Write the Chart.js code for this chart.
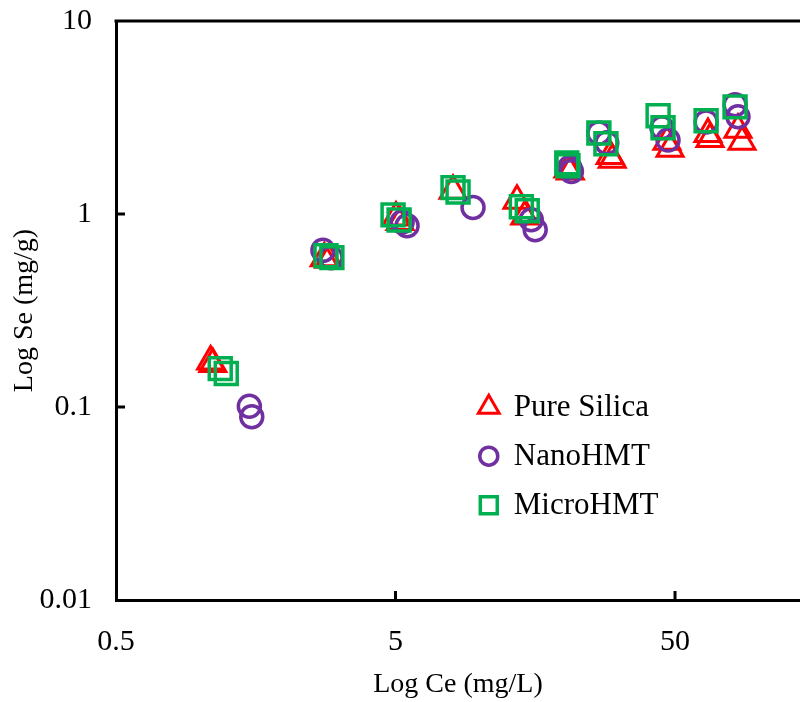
<!DOCTYPE html>
<html>
<head>
<meta charset="utf-8">
<script src="https://cdn.jsdelivr.net/npm/chart.js@4.4.0/dist/chart.umd.min.js"></script>
<style>
  body { margin: 0; background: #fff; }
</style>
</head>
<body>
<canvas id="isotherm" width="800" height="702"></canvas>
<script>
// tick labels
const xTicks = [0.5, 5, 50];
const yTicks = [0.01, 0.1, 1, 10];

// Ce (mg/L) and Se (mg/g) for each adsorbent
const silicaCe = [1.09, 1.11, 2.78, 2.89, 5.02, 5.19, 8.03, 13.6, 14.5, 20.7, 21.1, 29.3, 29.8, 46.8, 48.0, 65.6, 66.7, 84.0, 86.8];
const silicaSe = [0.172, 0.167, 0.59, 0.58, 0.96, 0.91, 1.32, 1.17, 0.97, 1.70, 1.66, 2.00, 1.91, 2.37, 2.18, 2.60, 2.45, 2.73, 2.37];

const nanoCe = [1.50, 1.53, 2.75, 2.94, 5.28, 5.50, 9.47, 15.3, 15.8, 21.0, 21.3, 26.7, 28.5, 44.9, 47.2, 64.6, 82.0, 84.0];
const nanoSe = [0.101, 0.089, 0.648, 0.594, 0.91, 0.87, 1.08, 0.934, 0.829, 1.74, 1.66, 2.63, 2.34, 2.80, 2.42, 3.00, 3.68, 3.19];

const microCe = [1.18, 1.24, 2.82, 2.96, 4.90, 5.15, 8.03, 8.37, 14.1, 14.8, 20.5, 20.7, 26.7, 28.3, 43.5, 45.3, 64.6, 82.0];
const microSe = [0.158, 0.149, 0.608, 0.594, 0.99, 0.93, 1.37, 1.30, 1.09, 1.04, 1.84, 1.78, 2.63, 2.31, 3.23, 2.80, 3.04, 3.59];

const toPoints = (xs, ys) => xs.map((x, i) => ({ x: x, y: ys[i] }));

const serif = 'Liberation Serif, Times New Roman, serif';

// top frame line and inward tick marks
const frame = {
  id: 'frame',
  afterDraw(chart) {
    const { ctx, chartArea: a, scales } = chart;
    ctx.save();
    ctx.strokeStyle = '#000';
    ctx.lineWidth = 3;
    ctx.beginPath();
    ctx.moveTo(a.left - 1.5, a.top);
    ctx.lineTo(a.right, a.top);
    scales.x.ticks.forEach(t => {
      const px = scales.x.getPixelForValue(t.value);
      if (px > a.left + 3 && px < a.right) {
        ctx.moveTo(px, a.bottom);
        ctx.lineTo(px, a.bottom - 9);
      }
    });
    scales.y.ticks.forEach(t => {
      const py = scales.y.getPixelForValue(t.value);
      if (py > a.top + 3 && py < a.bottom - 3) {
        ctx.moveTo(a.left, py);
        ctx.lineTo(a.left + 9, py);
      }
    });
    ctx.stroke();
    ctx.restore();
  }
};

// legend drawn inside the plot area
const insideLegend = {
  id: 'insideLegend',
  afterDatasetsDraw(chart, args, opts) {
    const { ctx, chartArea: a } = chart;
    const x = a.left + opts.x * (a.right - a.left);
    let y = a.top + opts.y * (a.bottom - a.top);
    ctx.save();
    ctx.font = opts.font;
    ctx.textBaseline = 'middle';
    chart.data.datasets.forEach(ds => {
      ctx.fillStyle = 'rgba(0,0,0,0)';
      ctx.strokeStyle = ds.borderColor;
      ctx.lineWidth = ds.pointBorderWidth;
      Chart.helpers.drawPoint(ctx, {
        pointStyle: ds.pointStyle,
        radius: ds.legendRadius,
        borderWidth: ds.pointBorderWidth,
        rotation: 0
      }, x, y);
      ctx.fillStyle = '#000';
      ctx.fillText(ds.label, x + opts.gap, y + 1);
      y += opts.spacing;
    });
    ctx.restore();
  }
};

const noPad = s => { s.paddingTop = 0; s.paddingBottom = 0; s.paddingLeft = 0; s.paddingRight = 0; };

new Chart(document.getElementById('isotherm'), {
  type: 'scatter',
  data: {
    datasets: [{
      label: 'Pure Silica',
      data: toPoints(silicaCe, silicaSe),
      pointStyle: 'triangle',
      pointRadius: 15,
      legendRadius: 12,
      pointBorderWidth: 3,
      borderColor: '#FF0000',
      backgroundColor: 'rgba(0,0,0,0)',
      order: 2
    }, {
      label: 'NanoHMT',
      data: toPoints(nanoCe, nanoSe),
      pointStyle: 'circle',
      pointRadius: 11,
      legendRadius: 9,
      pointBorderWidth: 3.5,
      borderColor: '#7030A0',
      backgroundColor: 'rgba(0,0,0,0)',
      order: 1
    }, {
      label: 'MicroHMT',
      data: toPoints(microCe, microSe),
      pointStyle: 'rect',
      pointRadius: 15.5,
      legendRadius: 12,
      pointBorderWidth: 3.5,
      borderColor: '#00B050',
      backgroundColor: 'rgba(0,0,0,0)',
      order: 0
    }]
  },
  options: {
    responsive: false,
    animation: false,
    devicePixelRatio: 1,
    layout: { autoPadding: false, padding: { top: 21, right: 0, left: 0, bottom: 0 } },
    plugins: {
      legend: { display: false },
      tooltip: { enabled: false },
      insideLegend: { x: 0.545, y: 0.667, spacing: 49, gap: 25, font: '31px ' + serif }
    },
    scales: {
      x: {
        type: 'logarithmic',
        min: 0.5,
        max: 140,
        afterBuildTicks: s => { s.ticks = xTicks.map(v => ({ value: v })); },
        afterFit: s => { s.height = 102; noPad(s); },
        border: { color: '#000', width: 3 },
        grid: { display: false, drawTicks: false },
        ticks: {
          autoSkip: false,
          maxRotation: 0,
          padding: 24,
          color: '#000',
          font: { family: serif, size: 30 },
          callback: v => String(v)
        },
        title: {
          display: true,
          text: 'Log Ce (mg/L)',
          color: '#000',
          font: { family: serif, size: 28 },
          padding: { top: 0, bottom: 1 }
        }
      },
      y: {
        type: 'logarithmic',
        min: 0.01,
        max: 10,
        afterBuildTicks: s => { s.ticks = yTicks.map(v => ({ value: v })); },
        afterFit: s => { s.width = 116; noPad(s); },
        border: { color: '#000', width: 3 },
        grid: { display: false, drawTicks: false },
        ticks: {
          autoSkip: false,
          padding: 24,
          color: '#000',
          font: { family: serif, size: 30 },
          callback: v => String(v)
        },
        title: {
          display: true,
          text: 'Log Se (mg/g)',
          color: '#000',
          font: { family: serif, size: 28 },
          padding: { top: 8, bottom: 0 }
        }
      }
    }
  },
  plugins: [frame, insideLegend]
});
</script>
</body>
</html>
